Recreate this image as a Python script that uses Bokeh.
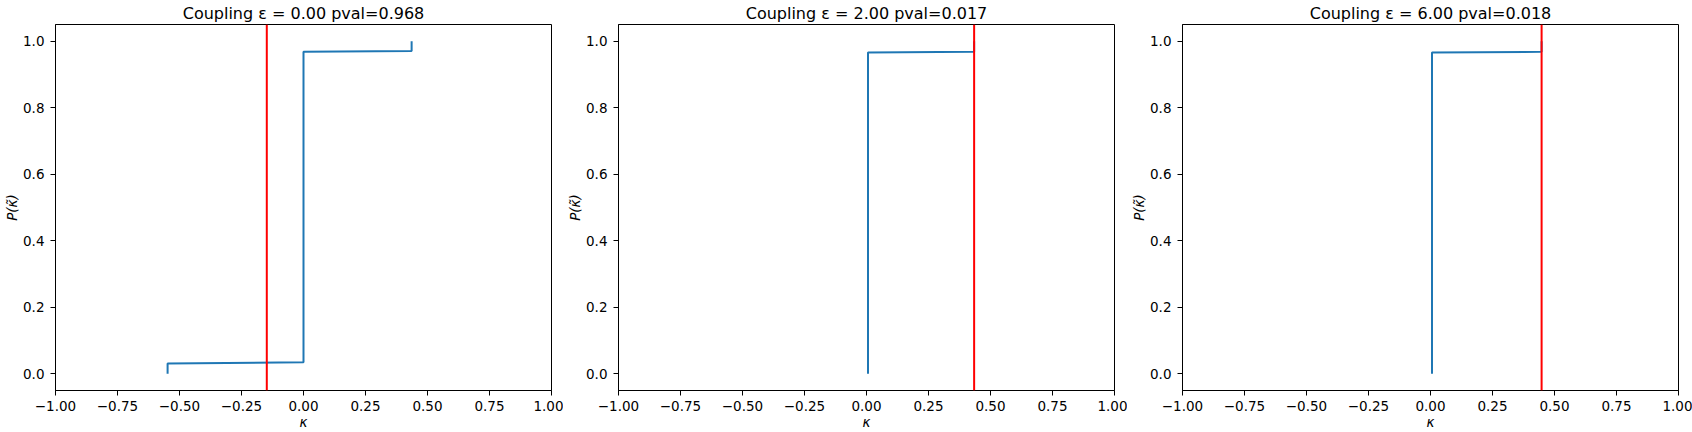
from bokeh.plotting import figure
from bokeh.layouts import row
from bokeh.models import Range1d, FixedTicker, Span
from bokeh.embed import file_html
from bokeh.resources import INLINE

# ---------------- data ----------------
couplings = [0.00, 2.00, 6.00]
pvals = [0.968, 0.017, 0.018]

# ECDF breakpoints (kappa, cumulative probability) for each panel
kappa_a = [-0.548, -0.548, 0.000, 0.000, 0.436, 0.436]
prob_a = [0.000, 0.031, 0.035, 0.968, 0.970, 1.000]

kappa_b = [0.006, 0.006, 0.434, 0.434]
prob_b = [0.000, 0.966, 0.968, 1.000]

kappa_c = [0.006, 0.006, 0.448, 0.448]
prob_c = [0.000, 0.966, 0.968, 1.000]

# observed kappa (red vertical line)
observed = [-0.148, 0.434, 0.448]

x_ticks = [-1.0, -0.75, -0.5, -0.25, 0.0, 0.25, 0.5, 0.75, 1.0]
x_tick_labels = ["\u22121.00", "\u22120.75", "\u22120.50", "\u22120.25", "0.00",
                 "0.25", "0.50", "0.75", "1.00"]
y_ticks = [0.0, 0.2, 0.4, 0.6, 0.8, 1.0]
y_tick_labels = ["0.0", "0.2", "0.4", "0.6", "0.8", "1.0"]

curves = [(kappa_a, prob_a), (kappa_b, prob_b), (kappa_c, prob_c)]

FONT = "DejaVu Sans"
BLUE = "#1f77b4"


def make_panel(i, width, right_border):
    kx, py = curves[i]
    p = figure(width=width, height=432,
               x_range=Range1d(-1.0, 1.0), y_range=Range1d(-0.05, 1.05),
               output_backend="svg", toolbar_location=None,
               min_border_left=55, min_border_right=right_border,
               min_border_top=23, min_border_bottom=41)
    p.title.text = f"Coupling \u03b5 = {couplings[i]:.2f} pval={pvals[i]:.3f}"
    p.title.text_font = FONT
    p.title.text_font_size = "16px"
    p.title.text_font_style = "normal"
    p.title.text_color = "black"
    p.title.align = "center"
    p.title.standoff = 3

    p.grid.visible = False
    p.background_fill_color = "white"
    p.border_fill_color = "white"
    p.outline_line_color = "black"
    p.outline_line_width = 1
    p.outline_line_alpha = 1.0

    for ax in (p.xaxis[0], p.yaxis[0]):
        ax.axis_line_color = "black"
        ax.axis_line_width = 1
        ax.major_tick_line_color = "black"
        ax.major_tick_in = 0
        ax.major_tick_out = 5
        ax.minor_tick_line_color = None
        ax.major_label_text_font = FONT
        ax.major_label_text_font_size = "13.5px"
        ax.major_label_text_color = "black"
        ax.axis_label_text_font = FONT
        ax.axis_label_text_font_size = "13.5px"
        ax.axis_label_text_font_style = "italic"
        ax.axis_label_text_color = "black"

    p.xaxis.ticker = FixedTicker(ticks=x_ticks)
    p.xaxis.major_label_overrides = dict(zip(x_ticks, x_tick_labels))
    p.xaxis.major_label_standoff = 5
    p.xaxis.axis_label = "\u03ba"
    p.xaxis.axis_label_standoff = 0

    p.yaxis.ticker = FixedTicker(ticks=y_ticks)
    p.yaxis.major_label_overrides = dict(zip(y_ticks, y_tick_labels))
    p.yaxis.major_label_standoff = 6
    p.yaxis.axis_label = "P(\u03ba\u0303)"
    p.yaxis.axis_label_standoff = 0

    p.line(kx, py, line_color=BLUE, line_width=2)
    p.add_layout(Span(location=observed[i], dimension="height",
                      line_color="red", line_width=2))
    return p


p1 = make_panel(0, 563, 12)
p2 = make_panel(1, 564, 13)
p3 = make_panel(2, 565, 14)

layout = row(p1, p2, p3)
open("out.html", "w").write(file_html(layout, INLINE))
